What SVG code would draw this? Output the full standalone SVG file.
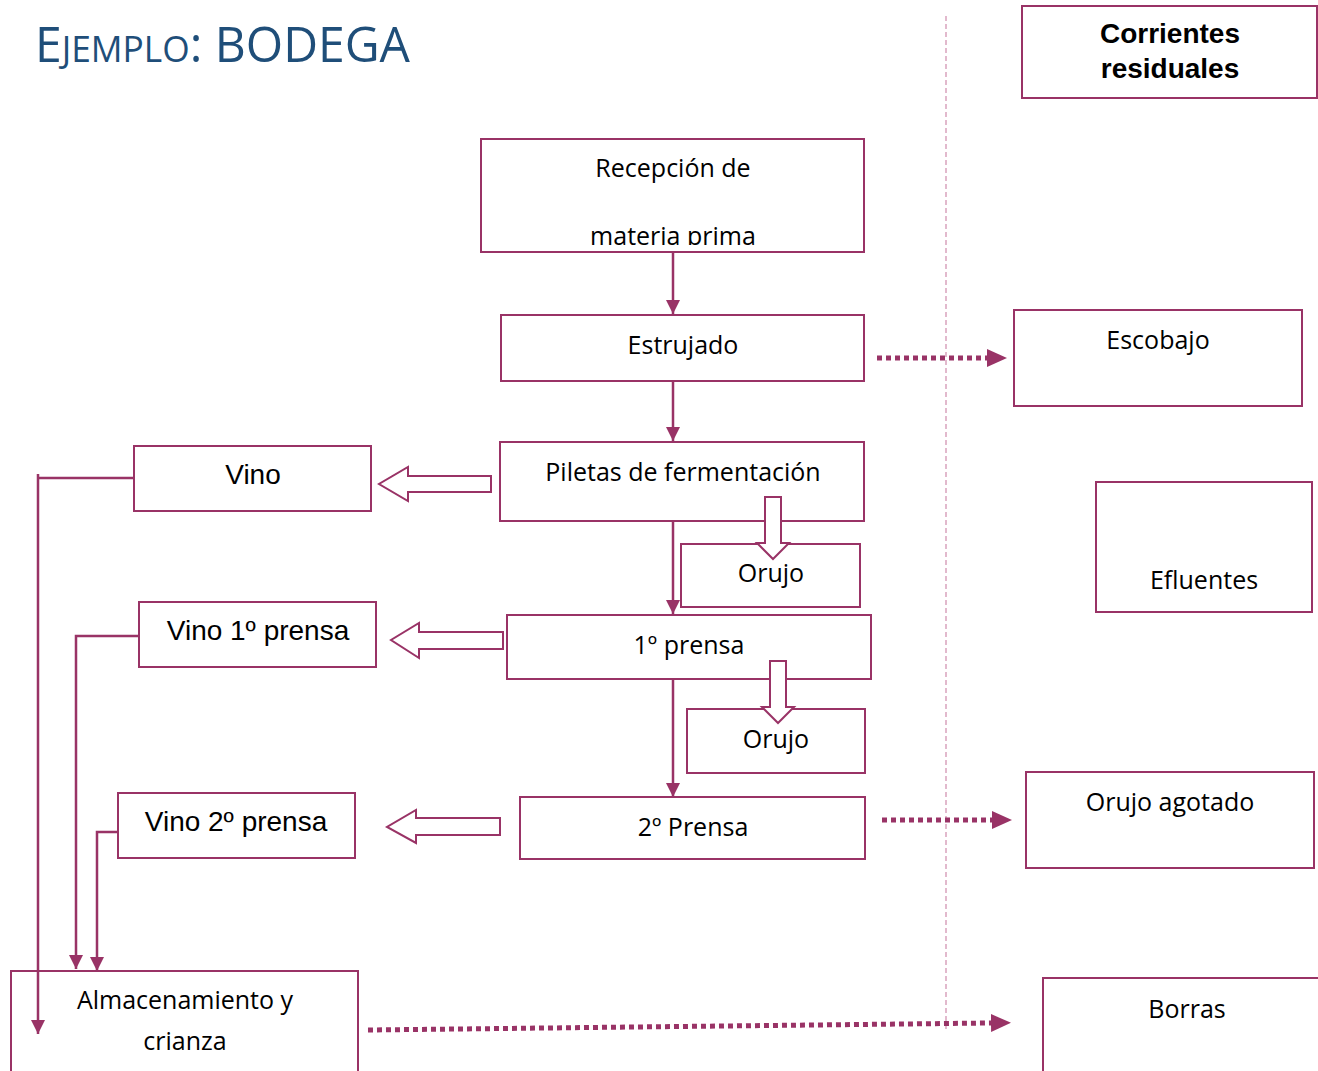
<svg xmlns="http://www.w3.org/2000/svg" width="1318" height="1071" viewBox="0 0 1318 1071">
<style>
.box{fill:#fff;stroke:#993366;stroke-width:2}
.t{font-family:"Open Sans","Noto Sans",sans-serif;font-size:25px;fill:#000;text-anchor:middle}
.a{font-family:"Liberation Sans",Arial,sans-serif;font-size:28px;fill:#000;text-anchor:middle}
.b{font-family:"Liberation Sans",Arial,sans-serif;font-size:28px;font-weight:bold;fill:#000;text-anchor:middle}
.ln{fill:none;stroke:#993366;stroke-width:2.5}
.dot{fill:none;stroke:#993366;stroke-width:5;stroke-dasharray:5 4}
.blk{fill:#fff;stroke:#993366;stroke-width:2;stroke-linejoin:miter}
</style>
<defs>
<marker id="sh" viewBox="0 0 14 14" refX="14" refY="7" markerWidth="14" markerHeight="14" markerUnits="userSpaceOnUse" orient="auto"><path d="M0,0 L14,7 L0,14 z" fill="#993366"/></marker>
<marker id="dh" viewBox="0 0 20 18" refX="0" refY="9" markerWidth="20" markerHeight="18" markerUnits="userSpaceOnUse" orient="auto"><path d="M0,0 L20,9 L0,18 z" fill="#993366"/></marker>
<clipPath id="clipRec"><rect x="481" y="139" width="383" height="106"/></clipPath>
</defs>
<rect width="1318" height="1071" fill="#fff"/>
<text x="35" y="62" font-family="'Open Sans','Noto Sans',sans-serif" fill="#1F4E79" font-size="49" textLength="375" lengthAdjust="spacingAndGlyphs">E<tspan font-size="36">JEMPLO</tspan>: BODEGA</text>
<line x1="946" y1="16" x2="946" y2="1032" stroke="#d9a3bd" stroke-width="1.5" stroke-dasharray="5 3"/>
<g id="n-corrientes"><rect class="box" x="1022" y="6" width="295" height="92"/><text class="b" x="1170" y="43">Corrientes</text><text class="b" x="1170" y="78">residuales</text></g>
<g id="n-recepcion"><rect class="box" x="481" y="139" width="383" height="113"/><g clip-path="url(#clipRec)"><text class="t" x="673" y="177">Recepción de</text><text class="t" x="673" y="245">materia prima</text></g></g>
<g id="n-estrujado"><rect class="box" x="501" y="315" width="363" height="66"/><text class="t" x="683" y="354">Estrujado</text></g>
<g id="n-piletas"><rect class="box" x="500" y="442" width="364" height="79"/><text class="t" x="683" y="481">Piletas de fermentación</text></g>
<g id="n-orujo1"><rect class="box" x="681" y="544" width="179" height="63"/><text class="t" x="771" y="582">Orujo</text></g>
<g id="n-prensa1"><rect class="box" x="507" y="615" width="364" height="64"/><text class="t" x="689" y="654">1º prensa</text></g>
<g id="n-orujo2"><rect class="box" x="687" y="709" width="178" height="64"/><text class="t" x="776" y="748">Orujo</text></g>
<g id="n-prensa2"><rect class="box" x="520" y="797" width="345" height="62"/><text class="t" x="693" y="836">2º Prensa</text></g>
<g id="n-almacen"><rect class="box" x="11" y="971" width="347" height="110"/><text class="t" x="185" y="1009">Almacenamiento y</text><text class="t" x="185" y="1050">crianza</text></g>
<g id="n-vino"><rect class="box" x="134" y="446" width="237" height="65"/><text class="a" x="253" y="484">Vino</text></g>
<g id="n-vino1"><rect class="box" x="139" y="602" width="237" height="65"/><text class="a" x="258" y="640">Vino 1º prensa</text></g>
<g id="n-vino2"><rect class="box" x="118" y="793" width="237" height="65"/><text class="a" x="236" y="831">Vino 2º prensa</text></g>
<g id="n-escobajo"><rect class="box" x="1014" y="310" width="288" height="96"/><text class="t" x="1158" y="349">Escobajo</text></g>
<g id="n-efluentes"><rect class="box" x="1096" y="482" width="216" height="130"/><text class="t" x="1204" y="589">Efluentes</text></g>
<g id="n-orujoagotado"><rect class="box" x="1026" y="772" width="288" height="96"/><text class="t" x="1170" y="811">Orujo agotado</text></g>
<g id="n-borras"><rect class="box" x="1043" y="978" width="290" height="110"/><text class="t" x="1187" y="1018">Borras</text></g>
<g id="connectors">
<line class="ln" x1="673" y1="253" x2="673" y2="314" marker-end="url(#sh)"/>
<line class="ln" x1="673" y1="382" x2="673" y2="441" marker-end="url(#sh)"/>
<line class="ln" x1="673" y1="522" x2="673" y2="614" marker-end="url(#sh)"/>
<line class="ln" x1="673" y1="680" x2="673" y2="797" marker-end="url(#sh)"/>
<line class="dot" x1="877" y1="358" x2="987" y2="358" marker-end="url(#dh)"/>
<line class="dot" x1="882" y1="820" x2="992" y2="820" marker-end="url(#dh)"/>
<line class="dot" x1="368" y1="1030" x2="991" y2="1023" marker-end="url(#dh)"/>
<path class="ln" d="M38,474 V478 M134,478 H38 V1034" marker-end="url(#sh)"/>
<path class="ln" d="M139,636 H76 V969" marker-end="url(#sh)"/>
<path class="ln" d="M118,832 H97 V971" marker-end="url(#sh)"/>
<path class="blk" d="M491,476 V492 H408 V501 L379,484 L408,467 V476 Z"/>
<path class="blk" d="M503,632 V649 H419 V658 L391,640 L419,623 V632 Z"/>
<path class="blk" d="M500,818 V835 H416 V843 L387,827 L416,810 V818 Z"/>
<path class="blk" d="M765,497 H781 V543 H789 L773,559 L757,543 H765 Z"/>
<path class="blk" d="M770,661 H786 V707 H794 L778,723 L762,707 H770 Z"/>
</g>
</svg>
